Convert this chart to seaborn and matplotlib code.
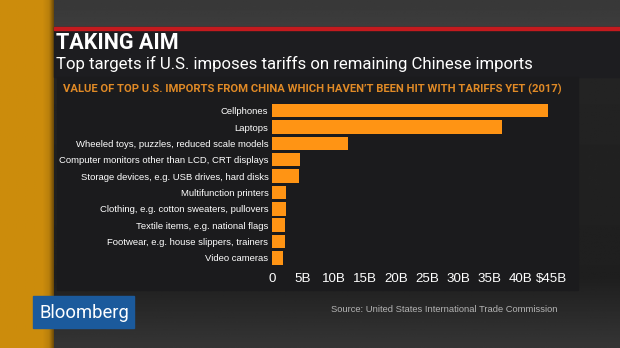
import numpy as np
import pandas as pd
import matplotlib
matplotlib.use("Agg")
import matplotlib.pyplot as plt
from matplotlib.patches import Rectangle
import seaborn as sns

# ---- data (US$ billions, 2017) ----
categories = [
    "Cellphones",
    "Laptops",
    "Wheeled toys, puzzles, reduced scale models",
    "Computer monitors other than LCD, CRT displays",
    "Storage devices, e.g. USB drives, hard disks",
    "Multifunction printers",
    "Clothing, e.g. cotton sweaters, pullovers",
    "Textile items, e.g. national flags",
    "Footwear, e.g. house slippers, trainers",
    "Video cameras",
]
values = [44.4, 37.0, 12.2, 4.5, 4.4, 2.3, 2.2, 2.1, 2.1, 1.8]
tick_values = [0, 5, 10, 15, 20, 25, 30, 35, 40, 45]
tick_labels = ["0", "5B", "10B", "15B", "20B", "25B", "30B", "35B", "40B", "$45B"]

title = "TAKING AIM"
subtitle = "Top targets if U.S. imposes tariffs on remaining Chinese imports"
header = "VALUE OF TOP U.S. IMPORTS FROM CHINA WHICH HAVEN\u2019T BEEN HIT WITH TARIFFS YET (2017)"
source = "Source: United States International Trade Commission"

df = pd.DataFrame({"category": categories, "value": values})

sns.set_theme(style="dark")
plt.rcParams["font.family"] = ["Liberation Sans", "DejaVu Sans"]

W, H = 620, 348
fig = plt.figure(figsize=(W / 100, H / 100), dpi=100)

# ---- background layer in pixel coordinates ----
bg = fig.add_axes([0, 0, 1, 1])
bg.set_xlim(0, W)
bg.set_ylim(H, 0)
bg.axis("off")

# gray backdrop with a vertical gradient
yy = np.linspace(0, 1, 200)[:, None]
grad = np.interp(yy, [0, 0.08, 0.2, 0.8, 1.0], [0.22, 0.24, 0.14, 0.12, 0.21])
bg.imshow(np.repeat(grad, 10, axis=1), cmap="gray", vmin=0, vmax=1,
          extent=[0, W, H, 0], aspect="auto", zorder=0)

# golden strip on the left
xx = np.linspace(0, 1, 60)[None, :]
gold = np.array([0.80, 0.55, 0.05])
shade = np.interp(xx, [0, 0.8, 0.92, 1.0], [1.0, 1.0, 0.9, 0.55])
strip = (shade[..., None] * gold[None, None, :]).repeat(4, axis=0)
bg.imshow(strip, extent=[0, 54, H, 0], aspect="auto", zorder=1)

# title panel and red rule
bg.add_patch(Rectangle((54, 27), W - 54, 50, color="#1d1d20", zorder=2))
bg.add_patch(Rectangle((54, 27), W - 54, 2.5, color="#c41a1e", zorder=3))
# chart panel
bg.add_patch(Rectangle((57, 77), 521, 213, color="#1b1b1d", zorder=2))

# Bloomberg badge
bg.add_patch(Rectangle((33, 296), 101, 32, color="#1b5a9c", zorder=3))
bg.text(84, 313, "Bloomberg", color="white", fontsize=13.2, ha="center",
        va="center", family=["Roboto", "DejaVu Sans"], zorder=4)

# titles
bg.text(56, 43, title, color="white", fontsize=15.5, fontweight="bold",
        ha="left", va="center", family=["Roboto", "DejaVu Sans"], zorder=4)
bg.text(56, 63.5, subtitle, color="white", fontsize=12.1,
        ha="left", va="center", family=["Roboto", "DejaVu Sans"], zorder=4)
hdr = bg.text(63, 89, header, color="#e08a26", fontsize=8, fontweight="bold",
              ha="left", va="center", family=["Roboto", "DejaVu Sans"], zorder=4)
bg.text(331, 309, source, color="#b4b4b4", fontsize=6.75,
        ha="left", va="center", zorder=4)

# fit the chart header into the panel width
renderer = fig.canvas.get_renderer()
hw = hdr.get_window_extent(renderer).width
hdr.set_fontsize(8 * 499 / hw)

# ---- bar chart ----
ax = fig.add_axes([272 / W, 1 - 266 / H, 280 / W, 163.4 / H])
sns.barplot(data=df, y="category", x="value", orient="h", color="#ff9414",
            saturation=1, width=0.82, linewidth=0, edgecolor="none", ax=ax)
ax.set_xlim(0, 45)
ax.set_ylim(9.5, -0.5)
ax.set_facecolor("none")
ax.patch.set_alpha(0)
for s in ax.spines.values():
    s.set_visible(False)
ax.grid(False)
ax.set_xlabel("")
ax.set_ylabel("")
ax.set_xticks(tick_values)
ax.set_xticklabels(tick_labels)
ax.tick_params(axis="x", length=0, pad=5, labelsize=9.6, labelcolor="white")
ax.tick_params(axis="y", length=0, pad=2.6, labelsize=6.8, labelcolor="white")

fig.savefig("out.png", dpi=100, facecolor="#2a2a2a")
